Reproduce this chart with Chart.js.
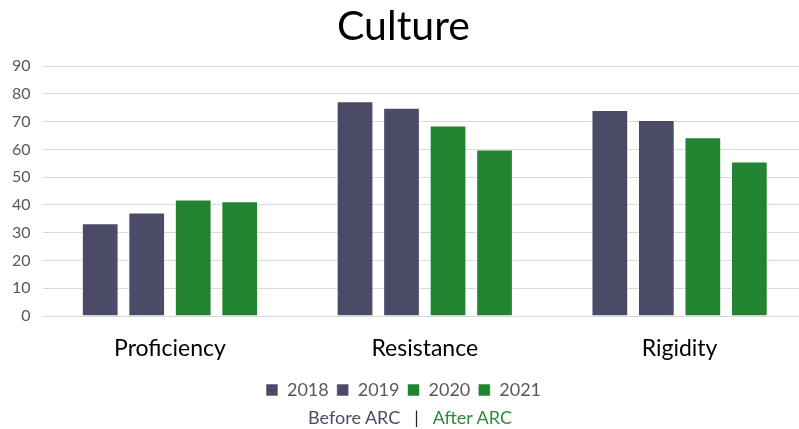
<!DOCTYPE html>
<html>
<head>
<meta charset="utf-8">
<script src="https://cdn.jsdelivr.net/npm/chart.js@4/dist/chart.umd.min.js"></script>
<style>
  html, body { margin: 0; padding: 0; background: #fff; overflow: hidden; }
  #wrap { position: relative; width: 799px; height: 429px; overflow: hidden; }
  #chart { position: absolute; left: 0; top: 0; }
  #note {
    position: absolute; left: 0; width: 820px; top: 406px;
    text-align: center; font-family: Lato, "Open Sans", sans-serif; font-size: 18px;
    line-height: 22px;
  }
  #note .before { color: #4b4b67; }
  #note .sep { color: #222; margin: 0 14px; }
  #note .after { color: #2e8b3a; }
</style>
</head>
<body>
<div id="wrap">
  <canvas id="chart" width="820" height="429"></canvas>
  <div id="note"><span class="before">Before ARC</span><span class="sep">|</span><span class="after">After ARC</span></div>
</div>
<script>
// ===== DATOS =====
const categories = ['Proficiency', 'Resistance', 'Rigidity'];
const years = ['2018', '2019', '2020', '2021'];
const values2018 = [33.4, 77.4, 74.2];
const values2019 = [37.3, 75.0, 70.6];
const values2020 = [42.0, 68.6, 64.4];
const values2021 = [41.3, 60.0, 55.7];
const yTicks = [0, 10, 20, 30, 40, 50, 60, 70, 80, 90];

const beforeColor = '#4b4b67';
const afterColor = '#228430';
const fontFamily = 'Lato, "Open Sans", sans-serif';

const seriesValues = [values2018, values2019, values2020, values2021];
const seriesColors = [beforeColor, beforeColor, afterColor, afterColor];

const datasets = years.map(function(year, i) {
  return {
    label: year,
    data: seriesValues[i],
    backgroundColor: seriesColors[i],
    borderColor: 'rgba(255,255,255,0.55)',
    borderWidth: 1,
    categoryPercentage: 0.73,
    barPercentage: 0.79,
  };
});

new Chart(document.getElementById('chart'), {
  type: 'bar',
  data: { labels: categories, datasets: datasets },
  options: {
    responsive: false,
    animation: false,
    layout: { padding: { left: 0, right: 13, top: 0, bottom: 20 } },
    plugins: {
      title: {
        display: true,
        text: 'Culture',
        color: '#000',
        font: { family: fontFamily, size: 41, weight: 'normal' },
        padding: { top: 2, bottom: 15 },
      },
      legend: {
        position: 'bottom',
        labels: {
          boxWidth: 12,
          boxHeight: 12,
          color: '#595959',
          font: { family: fontFamily, size: 18 },
          padding: 8,
        },
      },
      tooltip: { enabled: false },
    },
    scales: {
      x: {
        grid: { display: false },
        border: { color: '#d9d9d9' },
        ticks: { color: '#000', font: { family: fontFamily, size: 23, lineHeight: 1 }, padding: 13 },
      },
      y: {
        min: 0,
        max: 90,
        afterBuildTicks: function(axis) {
          axis.ticks = yTicks.map(function(v) { return { value: v }; });
        },
        grid: { color: '#d9d9d9', drawTicks: false },
        border: { display: false },
        ticks: { color: '#595959', font: { family: fontFamily, size: 16 }, padding: 12 },
      },
    },
  },
});
</script>
</body>
</html>
